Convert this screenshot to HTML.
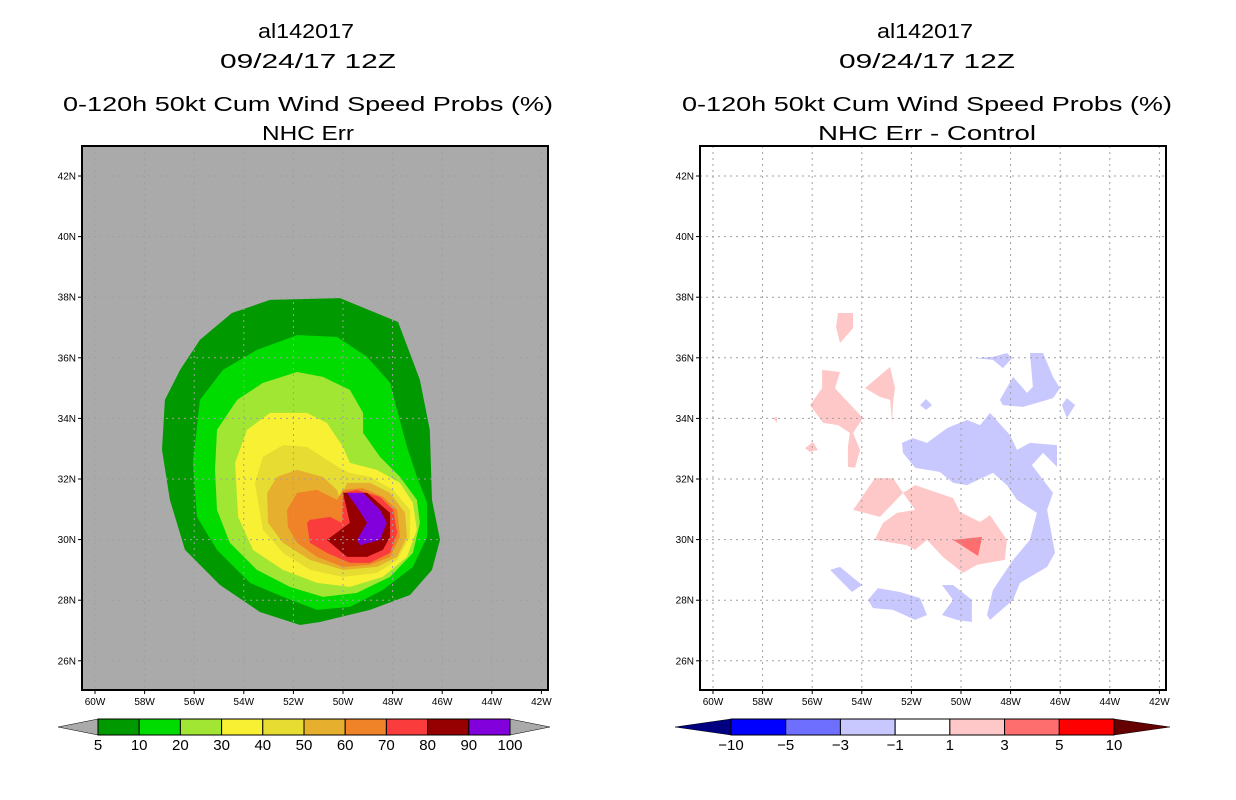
<!DOCTYPE html>
<html><head><meta charset="utf-8"><style>
html,body{margin:0;padding:0;background:#fff;}
svg{display:block;font-family:"Liberation Sans",sans-serif;}
</style></head><body>
<svg id="fig" width="1236" height="800" viewBox="0 0 1236 800" xmlns="http://www.w3.org/2000/svg">
<g font-size="20" text-anchor="middle" fill="#000" lengthAdjust="spacingAndGlyphs">
<text x="306" y="38" textLength="96" lengthAdjust="spacingAndGlyphs">al142017</text>
<text x="308" y="68" textLength="176" lengthAdjust="spacingAndGlyphs">09/24/17 12Z</text>
<text x="308" y="111" textLength="490" lengthAdjust="spacingAndGlyphs">0-120h 50kt Cum Wind Speed Probs (%)</text>
<text x="308" y="140" textLength="92" lengthAdjust="spacingAndGlyphs">NHC Err</text></g>
<g font-size="20" text-anchor="middle" fill="#000">
<text x="925" y="38" textLength="96" lengthAdjust="spacingAndGlyphs">al142017</text>
<text x="927" y="68" textLength="176" lengthAdjust="spacingAndGlyphs">09/24/17 12Z</text>
<text x="927" y="111" textLength="490" lengthAdjust="spacingAndGlyphs">0-120h 50kt Cum Wind Speed Probs (%)</text>
<text x="927" y="140" textLength="218" lengthAdjust="spacingAndGlyphs">NHC Err - Control</text></g>
<g id="L"></g>
<g id="R"></g>
<g id="LC"></g>
<g id="RC"></g>
</svg>
<script>
const lonTicks=[60,58,56,54,52,50,48,46,44,42];
const latTicks=[42,40,38,36,34,32,30,28,26];
const probLevels=[5,10,20,30,40,50,60,70,80,90,100];
const probColors=['#009a00','#00dc00','#a0e632','#f8f032','#e6dc32','#e6af2d','#f08228','#fa3c3c','#960000','#8200dc'];
const diffLevels=[-10,-5,-3,-1,1,3,5,10];
const diffColors=['#0000ff','#6e6eff','#c8c8ff','#ffffff','#ffc8c8','#ff6e6e','#ff0000'];
const p5=[[54.48,37.48],[52.94,37.91],[50.12,37.97],[47.78,37.18],[46.9,35.27],[46.5,33.62],[46.41,31.31],[46.09,29.99],[46.41,29.0],[47.3,28.17],[48.91,27.68],[50.93,27.28],[51.73,27.18],[53.35,27.61],[54.96,28.5],[56.37,29.66],[56.98,31.31],[57.3,32.96],[57.18,34.61],[56.57,35.6],[55.77,36.59]];
const p10=[[56.05,32.53],[55.77,34.61],[54.84,35.6],[53.47,36.26],[51.85,36.75],[50.24,36.69],[49.03,36.03],[48.10,35.17],[47.82,34.28],[47.42,33.06],[47.02,32.07],[46.61,31.21],[46.61,30.09],[47.18,29.1],[48.39,28.34],[49.72,27.78],[51.05,27.68],[52.42,28.11],[53.75,28.57],[55.08,29.66],[55.89,30.75]];
const p20=[[55.16,32.3],[55.08,33.62],[54.27,34.61],[53.23,35.17],[51.85,35.53],[50.81,35.37],[49.72,34.94],[49.19,34.18],[49.19,33.52],[48.51,32.73],[47.70,32.07],[47.02,31.31],[46.90,30.55],[47.18,29.56],[48.10,28.77],[49.44,28.24],[50.81,28.11],[52.14,28.44],[53.47,29.0],[54.56,29.89],[55.08,30.98]];
const p30=[[54.35,32.53],[53.87,33.62],[52.94,34.18],[51.45,34.18],[50.65,33.85],[50.0,33.06],[49.72,32.53],[48.63,32.3],[47.70,31.87],[47.18,31.21],[47.02,30.32],[47.42,29.43],[48.39,28.77],[49.72,28.44],[51.05,28.57],[52.42,29.0],[53.63,29.66],[54.23,30.75]];
const p40=[[53.55,31.87],[53.23,32.73],[52.42,33.12],[51.45,33.06],[50.65,32.63],[50.0,32.3],[49.72,32.2],[48.91,32.07],[47.98,31.64],[47.30,30.98],[47.30,30.09],[47.82,29.33],[48.63,28.9],[50.0,28.77],[51.33,29.0],[52.42,29.56],[53.23,30.32]];
const p50=[[53.06,31.54],[52.66,32.07],[51.85,32.3],[50.81,32.07],[50.24,31.64],[50.12,31.31],[49.84,31.87],[48.91,31.87],[48.10,31.54],[47.5,30.88],[47.42,30.09],[47.82,29.43],[48.63,29.1],[50.0,29.0],[51.33,29.33],[52.42,29.89],[53.02,30.55]];
const p60=[[52.26,30.98],[51.85,31.54],[51.05,31.64],[50.24,31.31],[50.0,31.64],[49.19,31.70],[48.39,31.41],[47.82,30.98],[47.70,30.09],[48.10,29.43],[48.91,29.17],[50.0,29.1],[51.05,29.43],[51.85,29.89],[52.22,30.42]];
const p70=[[51.45,30.55],[51.33,30.65],[50.52,30.75],[50.04,30.55],[50.0,31.54],[49.44,31.64],[48.51,31.41],[47.98,30.98],[47.82,30.22],[48.10,29.56],[48.91,29.23],[49.72,29.23],[50.65,29.56],[51.33,29.89]];
const p80=[[50.65,29.99],[49.72,30.55],[50.0,31.54],[49.03,31.54],[48.10,30.88],[48.10,30.09],[48.39,29.66],[49.03,29.43],[49.84,29.43]];
const p90=[[49.84,31.54],[49.19,31.54],[48.51,30.98],[48.23,30.55],[48.51,29.99],[49.31,29.82],[49.44,29.99],[49.03,30.55],[49.44,31.08]];
const probPolys=[p5,p10,p20,p30,p40,p50,p60,p70,p80,p90];
const pos1=[
[[54.96,37.48],[54.35,37.48],[54.35,36.98],[54.88,36.49],[55.04,37.02]],
[[55.6,35.6],[54.88,35.53],[55.08,35.0],[54.76,34.71],[53.95,34.01],[54.35,33.52],[54.07,32.96],[54.27,32.37],[54.56,32.4],[54.56,33.06],[54.48,33.52],[54.96,33.78],[55.56,33.85],[56.09,34.44],[55.6,35.0]],
[[53.87,35.0],[52.86,35.7],[52.66,35.0],[52.74,34.51],[52.78,33.85],[52.86,34.61],[53.27,34.71]],
[[56.29,33.02],[55.97,33.22],[55.77,32.96],[56.09,32.89]],
[[57.58,34.01],[57.42,34.05],[57.42,33.85]],
[[54.35,30.98],[53.47,32.03],[52.74,32.03],[52.34,31.54],[53.27,30.75]],
[[52.34,31.54],[51.85,31.8],[50.32,31.37],[50.04,30.91],[49.23,30.58],[48.83,30.81],[48.15,29.99],[48.23,29.33],[49.35,29.17],[49.92,28.9],[50.73,29.43],[51.37,29.99],[51.85,29.66],[52.18,29.82],[52.74,29.89],[53.47,29.99],[53.15,30.55],[52.58,30.88],[51.85,30.98]]
];
const pos3=[[[50.32,29.99],[49.15,30.09],[49.31,29.46]]];
const neg1=[
[[52.38,33.19],[51.94,33.35],[51.37,33.19],[50.56,33.68],[49.76,33.95],[49.23,33.78],[48.83,34.18],[48.02,33.45],[47.74,32.96],[47.22,33.19],[46.13,33.12],[46.13,32.4],[46.69,32.86],[47.14,32.46],[46.29,31.54],[46.53,30.98],[46.21,29.56],[46.53,29.1],[47.62,28.57],[47.90,28.01],[48.83,27.35],[48.95,27.51],[48.71,28.34],[47.90,29.33],[47.22,29.99],[46.94,30.88],[47.74,31.31],[48.15,31.8],[48.71,32.2],[49.76,31.8],[50.32,31.87],[50.85,32.23],[51.85,32.37],[52.34,32.86]],
[[48.43,34.61],[47.9,35.37],[47.34,34.84],[47.10,35.04],[47.22,36.16],[46.69,36.16],[46.29,35.37],[46.01,35.0],[46.29,34.67],[46.94,34.51],[47.5,34.38],[48.31,34.44]],
[[49.44,35.99],[48.71,36.03],[48.15,36.16],[47.94,35.99],[48.31,35.66],[48.71,35.93]],
[[45.93,34.44],[45.73,34.67],[45.40,34.44],[45.73,34.01]],
[[51.65,34.44],[51.41,34.64],[51.17,34.44],[51.41,34.28]],
[[55.28,29.0],[54.88,29.1],[53.99,28.5],[54.4,28.27]],
[[53.75,28.01],[53.35,28.4],[52.46,28.27],[51.65,28.07],[51.37,27.51],[51.85,27.35],[52.74,27.68],[53.55,27.74]],
[[50.77,28.5],[50.32,28.5],[49.56,28.01],[49.56,27.28],[50.16,27.35],[50.77,27.51],[50.32,28.01]]
];
const NS='http://www.w3.org/2000/svg';
function mk(tag,attrs,parent){const e=document.createElementNS(NS,tag);for(const k in attrs)e.setAttribute(k,attrs[k]);parent.appendChild(e);return e;}
const PX0=82,PY0=146,PW=466,PH=544;
function xS(lon,off){return off+95+(60-lon)*24.8;}
function yS(lat){return 176+(42-lat)*30.3;}
function ptsStr(poly,off){return poly.map(p=>xS(p[0],off).toFixed(1)+','+yS(p[1]).toFixed(1)).join(' ');}
function frame(g,off,bg,name){
  const r=mk('rect',{x:PX0+off,y:PY0,width:PW,height:PH,fill:bg},g);
  
  
}
function gridAxes(g,off,name){
  const gg=mk('g',{stroke:'#a0a0a0','stroke-width':1,'stroke-dasharray':'2,4'},g);
  
  
  lonTicks.forEach(l=>{const x=xS(l,off);if(x>PX0+off&&x<PX0+off+PW)mk('line',{x1:x,x2:x,y1:PY0,y2:PY0+PH},gg);});
  latTicks.forEach(l=>{const y=yS(l);mk('line',{x1:PX0+off,x2:PX0+off+PW,y1:y,y2:y},gg);});
  const b=mk('rect',{x:PX0+off,y:PY0,width:PW,height:PH,fill:'none',stroke:'#000','stroke-width':2},g);
  
  
  lonTicks.forEach(l=>{const x=xS(l,off);
    mk('line',{x1:x,x2:x,y1:PY0+PH,y2:PY0+PH+4,stroke:'#000'},g);
    const t=mk('text',{x:x,y:PY0+PH+15,'font-size':10,'text-anchor':'middle'},g);t.textContent=l+'W';
    
    });
  latTicks.forEach(l=>{const y=yS(l);
    mk('line',{x1:PX0+off-4,x2:PX0+off,y1:y,y2:y,stroke:'#000'},g);
    const t=mk('text',{x:PX0+off-6,y:y+3.5,'font-size':10,'text-anchor':'end'},g);t.textContent=l+'N';
    
    });
}
const L=document.getElementById('L');
frame(L,0,'#aaaaaa','left-map');
probPolys.forEach((poly,i)=>{const p=mk('polygon',{points:ptsStr(poly,0),fill:probColors[i]},L);
  
  });
gridAxes(L,0,'left-map');
const R=document.getElementById('R');
frame(R,618,'#ffffff','right-map');
pos1.forEach(poly=>{const p=mk('polygon',{points:ptsStr(poly,618),fill:diffColors[4]},R);
  
  });
pos3.forEach(poly=>{const p=mk('polygon',{points:ptsStr(poly,618),fill:diffColors[5]},R);
  
  });
neg1.forEach(poly=>{const p=mk('polygon',{points:ptsStr(poly,618),fill:diffColors[2]},R);
  
  });
gridAxes(R,618,'right-map');
function colorbar(g,x0,x1,colors,labels,leftTri,rightTri,triW){
  const y0=719,h=16,w=(x1-x0)/colors.length;
  const a=mk('polygon',{points:`${x0},${y0} ${x0-triW},${y0+h/2} ${x0},${y0+h}`,fill:leftTri,stroke:'#000','stroke-width':0.5},g);
  
  
  const c=mk('polygon',{points:`${x1},${y0} ${x1+triW},${y0+h/2} ${x1},${y0+h}`,fill:rightTri,stroke:'#000','stroke-width':0.5},g);
  
  
  colors.forEach((col,i)=>{const r=mk('rect',{x:x0+i*w,y:y0,width:w,height:h,fill:col,stroke:'#000','stroke-width':1},g);
    
    });
  labels.forEach((lb,i)=>{const t=mk('text',{x:x0+i*w,y:y0+h+15,'font-size':15,'text-anchor':'middle'},g);t.textContent=String(lb).replace('-','\u2212');
    
    });
}
colorbar(document.getElementById('LC'),98,510,probColors,probLevels,'#aaaaaa','#aaaaaa',40);
colorbar(document.getElementById('RC'),731,1114,diffColors,diffLevels,'#000080','#640000',56);
</script>
</body></html>
